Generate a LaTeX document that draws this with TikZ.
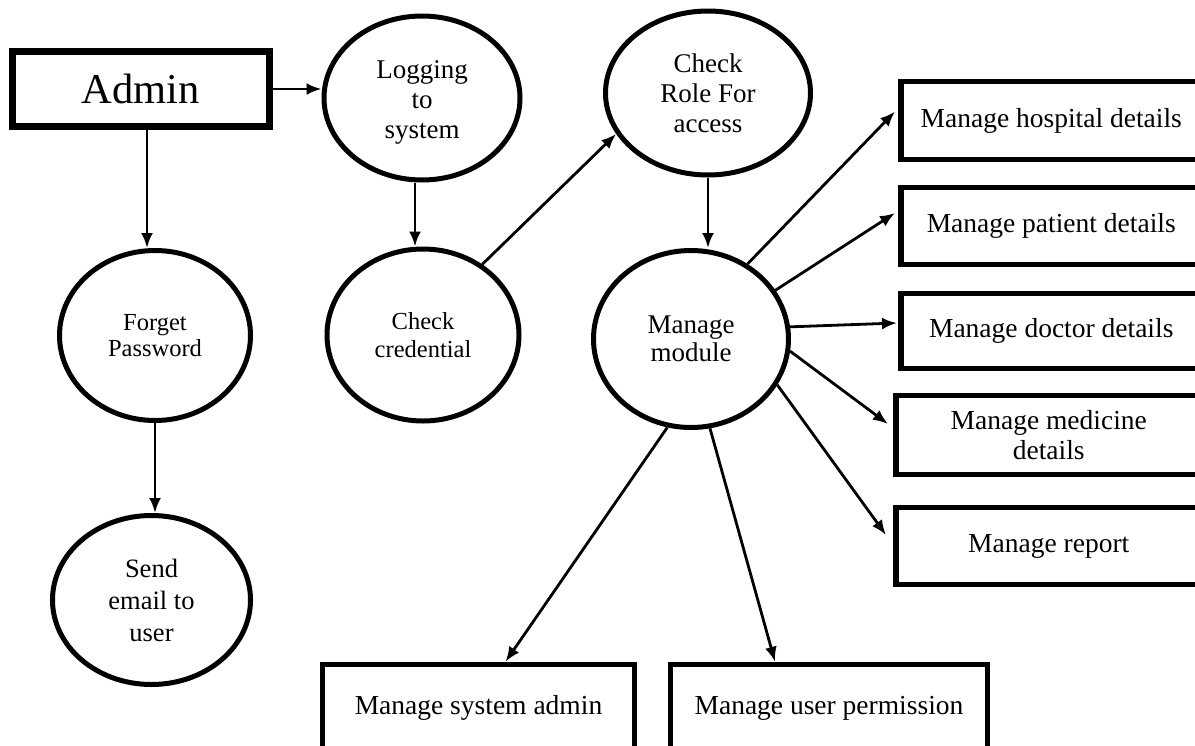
\documentclass[tikz,border=0pt]{standalone}
\usepackage{fontspec}
\setmainfont{Liberation Serif}
\usetikzlibrary{shapes.geometric,arrows.meta,calc}
\begin{document}
\begin{tikzpicture}[x=1pt,y=-1pt,
  proc/.style={ellipse,draw,line width=5pt,inner sep=0pt,align=center,
    font=\fontsize{27}{30}\selectfont},
  entity/.style={rectangle,draw,line width=5.5pt,inner sep=0pt,align=center,
    font=\fontsize{27.5}{30}\selectfont},
  arr/.style={line width=2.8pt,-{Latex[length=15pt,width=12pt]}}]
\path[use as bounding box] (0,0) rectangle (1195,745);
\clip (0,0) rectangle (1195,745);

% actor
\node[entity,line width=7pt,minimum width=257pt,minimum height=75pt,
  font=\fontsize{42.5}{48}\selectfont] (admin) at (141,89) {Admin};

% processes
\node[proc,minimum width=196pt,minimum height=164pt] (login) at (422,98) {};
\node[align=center,inner sep=0pt,font=\fontsize{27}{30}\selectfont]
  (logintext) at ($(login.center)+(0,4)$) {Logging\\to\\system};
\node[proc,minimum width=205pt,minimum height=164pt] (role) at (708,93) {Check\\Role For\\access};
\node[proc,minimum width=192pt,minimum height=172pt,
  font=\fontsize{24.5}{28}\selectfont] (cred) at (423,335) {Check\\credential};
\node[proc,minimum width=191pt,minimum height=170pt,
  font=\fontsize{24.5}{26}\selectfont] (forget) at (155,335.5) {Forget\\Password};
\node[proc,minimum width=198pt,minimum height=169pt,
  font=\fontsize{26.5}{32}\selectfont] (send) at (151.5,600) {Send\\email to\\user};
\node[proc,minimum width=195pt,minimum height=177pt,
  font=\fontsize{27}{28.5}\selectfont] (module) at (691,339) {Manage\\module};

% managed entities (right column)
\node[entity,anchor=west,minimum width=301pt,minimum height=78pt] (hosp) at (898,120.5) {Manage hospital details};
\node[entity,anchor=west,minimum width=301pt,minimum height=77pt] (pat) at (898,226) {Manage patient details};
\node[entity,anchor=west,minimum width=301pt,minimum height=75pt] (doc) at (898,331) {Manage doctor details};
\node[entity,anchor=west,minimum width=306pt,minimum height=79pt] (med) at (893,435) {Manage medicine\\details};
\node[entity,anchor=west,minimum width=306pt,minimum height=77pt] (rep) at (893,546) {Manage report};

% managed entities (bottom row)
\node[entity,minimum width=312pt,minimum height=87pt] (sys) at (478.5,708) {Manage system admin};
\node[entity,minimum width=317pt,minimum height=87pt] (perm) at (829,708) {Manage user permission};

% flows
\draw[arr] (admin.east) -- (admin.east -| login.west);
\draw[arr] ([xshift=6pt]admin.south) -- ([xshift=-8pt]forget.north);
\draw[arr] (forget.south) -- (forget.south |- send.north);
\draw[arr] ([xshift=-7pt]login.south) -- ([xshift=-8pt]cred.north);
\draw[arr] (cred.50) -- (role.204);
\draw[arr] (role.south) -- (role.south |- module.north);

\draw[arr] (module.53) -- ($(hosp.west)+(-3,-9)$);
\draw[arr] (module.30) -- ($(pat.west)+(-3,-13)$);
\draw[arr] (module.7) -- ($(doc.west)+(-1,-8)$);
\draw[arr] (module.-7) -- ($(med.west)+(-5,-11)$);
\draw[arr] (module.-28) -- ($(rep.west)+(-7,-11)$);
\draw[arr] (module.255) -- ($(sys.north)+(27,0)$);
\draw[arr] (module.282) -- ($(perm.north)+(-54,0)$);
\end{tikzpicture}
\end{document}
